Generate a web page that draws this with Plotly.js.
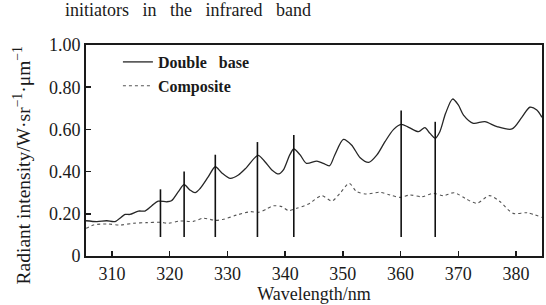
<!DOCTYPE html>
<html>
<head>
<meta charset="utf-8">
<script src="https://cdn.plot.ly/plotly-3.0.1.min.js"></script>
<style>html,body{margin:0;padding:0;background:#fff;}#chart{width:546px;height:305px;}</style>
</head>
<body>
<div id="chart"></div>
<script>
// Double base spectrum (wavelength nm, radiant intensity)
const doubleWl = [305.5,307.4,309.1,310.5,312.3,313.1,314.6,315.7,316.9,318.0,319.5,320.3,321.5,322.5,323.5,324.4,325.3,326.7,327.9,329.0,330.5,331.9,333.3,335.3,336.5,337.7,338.9,339.7,340.8,341.5,342.6,343.7,345.5,346.6,347.7,348.6,350.1,351.5,353.0,354.5,355.9,357.3,358.8,360.1,361.4,363.1,364.2,365.1,366.0,366.8,367.8,369.0,370.0,370.9,372.6,374.6,376.7,379.3,381.0,382.4,383.6,384.5];
const doubleVal = [0.167,0.163,0.167,0.163,0.197,0.197,0.213,0.213,0.238,0.260,0.257,0.262,0.305,0.338,0.313,0.300,0.321,0.376,0.423,0.395,0.368,0.384,0.419,0.477,0.447,0.408,0.389,0.408,0.479,0.507,0.479,0.439,0.450,0.439,0.428,0.479,0.553,0.526,0.466,0.444,0.479,0.542,0.600,0.624,0.610,0.589,0.608,0.581,0.558,0.589,0.676,0.744,0.716,0.668,0.629,0.637,0.613,0.602,0.657,0.705,0.692,0.657];
// Composite spectrum
const compWl = [305.5,306.8,309.1,311.4,313.7,316.0,318.3,319.8,321.8,324.1,325.8,327.9,329.3,331.6,334.0,335.4,336.8,338.0,339.4,340.6,342.0,343.7,344.3,346.3,348.1,349.5,351.1,352.4,354.1,356.4,358.2,359.9,361.6,363.7,365.7,367.4,369.3,371.2,373.2,375.4,377.2,379.5,381.9,384.5];
const compVal = [0.131,0.147,0.152,0.147,0.155,0.158,0.160,0.155,0.166,0.164,0.179,0.169,0.174,0.194,0.210,0.207,0.223,0.238,0.234,0.215,0.226,0.242,0.250,0.286,0.261,0.297,0.344,0.305,0.294,0.302,0.289,0.278,0.289,0.281,0.297,0.286,0.300,0.273,0.250,0.286,0.258,0.202,0.205,0.183];
// Marked peak lines
const peakWl = [318.4,322.5,327.9,335.2,341.5,360.1,366.0];
const peakTop = [0.316,0.400,0.480,0.540,0.573,0.690,0.636];
const peakBottom = [0.09,0.09,0.09,0.09,0.09,0.09,0.09];
// Axis ticks
const xTicks = [310,320,330,340,350,360,370,380];
const yTicks = [0,0.2,0.4,0.6,0.8,1.0];
const yTickText = ["0","0.20","0.40","0.60","0.80","1.00"];
const seriesNames = ["Double&nbsp;&nbsp; base","Composite"];

const px = [], py = [];
for (let i = 0; i < peakWl.length; i++) {
  px.push(peakWl[i], peakWl[i], null);
  py.push(peakBottom[i], peakTop[i], null);
}

const serif = "Liberation Serif";
const traces = [
  {x: doubleWl, y: doubleVal, name: seriesNames[0], mode: "lines", type: "scatter",
   line: {color: "#262626", width: 1.3, shape: "spline", smoothing: 0.8}},
  {x: compWl, y: compVal, name: seriesNames[1], mode: "lines", type: "scatter",
   line: {color: "#555555", width: 1.1, dash: "dot", shape: "spline", smoothing: 0.8}},
  {x: px, y: py, mode: "lines", type: "scatter", showlegend: false, hoverinfo: "skip",
   line: {color: "#111111", width: 1.6}}
];

const layout = {
  width: 546, height: 305,
  margin: {l: 86, r: 4, t: 45, b: 49},
  paper_bgcolor: "#ffffff", plot_bgcolor: "#ffffff",
  font: {family: serif, color: "#1a1a1a", size: 17},
  showlegend: true,
  legend: {x: 0.07, y: 1.0, xanchor: "left", yanchor: "top", bgcolor: "rgba(0,0,0,0)",
           font: {family: serif, size: 16, color: "#1a1a1a", weight: "bold"}, tracegroupgap: 0, itemwidth: 30},
  xaxis: {range: [305.5, 384.5], tickvals: xTicks, ticks: "inside", ticklen: 5, tickwidth: 1.5,
          tickcolor: "#1a1a1a", showline: true, mirror: true, linecolor: "#1a1a1a", linewidth: 2,
          showgrid: false, zeroline: false, tickfont: {family: serif, size: 18},
          title: {text: "Wavelength/nm", font: {family: serif, size: 18}, standoff: 4}},
  yaxis: {range: [0, 1.0], tickvals: yTicks, ticktext: yTickText, ticks: "inside", ticklen: 5, tickwidth: 1.5,
          tickcolor: "#1a1a1a", showline: true, mirror: true, linecolor: "#1a1a1a", linewidth: 2,
          showgrid: false, zeroline: false, tickfont: {family: serif, size: 18}},
  annotations: [
    {text: "initiators&nbsp;&nbsp; in&nbsp;&nbsp; the&nbsp;&nbsp; infrared&nbsp;&nbsp; band", xref: "paper", yref: "paper", x: -0.05, y: 1.0,
     xanchor: "left", yanchor: "bottom", yshift: 23, showarrow: false, font: {family: serif, size: 18, color: "#1a1a1a"}},
    {text: "Radiant intensity/W·sr<sup>−1</sup>·μm<sup>−1</sup>", xref: "paper", yref: "paper", x: -0.14, y: 0.43,
     xanchor: "center", yanchor: "middle", textangle: -90, showarrow: false, font: {family: serif, size: 19.5, color: "#1a1a1a"}}
  ]
};

Plotly.newPlot("chart", traces, layout, {displayModeBar: false, staticPlot: true});
</script>
</body>
</html>
